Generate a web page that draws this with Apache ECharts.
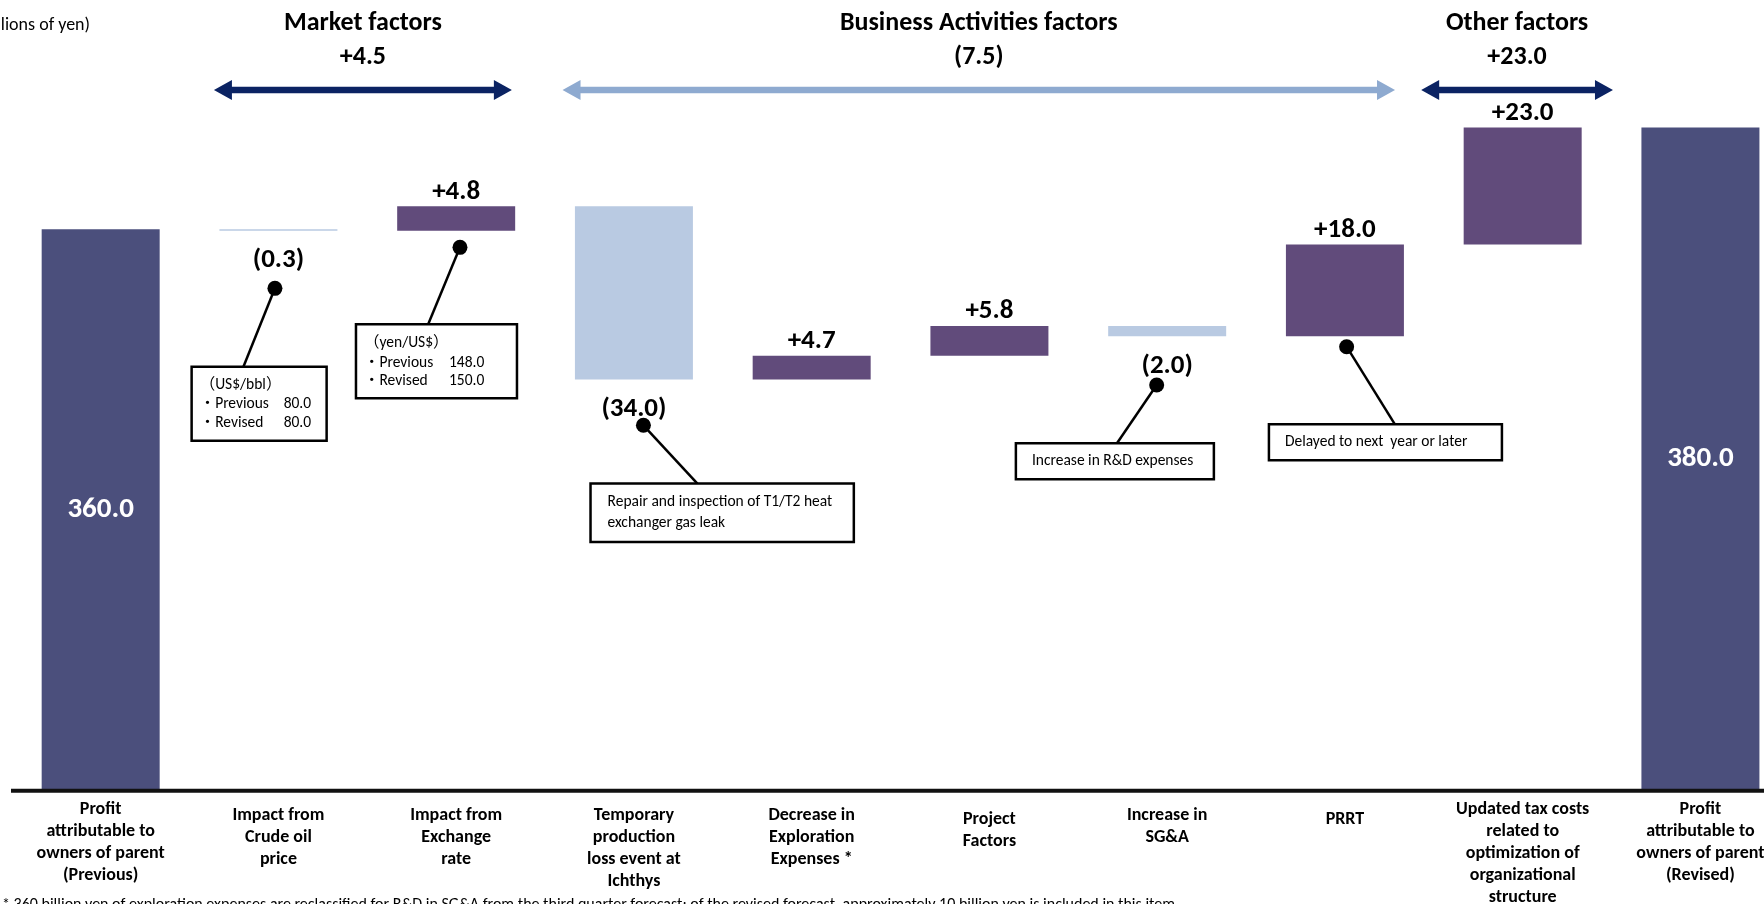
<!DOCTYPE html>
<html><head><meta charset="utf-8">
<script src="https://cdn.jsdelivr.net/npm/echarts@6/dist/echarts.min.js"></script>
<style>html,body{margin:0;padding:0;background:#fff;overflow:hidden}#c{width:1764px;height:904px}</style>
</head><body><div id="c"></div>
<script>
// ---------- data ----------
const categories = [
  'Profit\nattributable to\nowners of parent\n(Previous)',
  'Impact from\nCrude oil\nprice',
  'Impact from\nExchange\nrate',
  'Temporary\nproduction\nloss event at\nIchthys',
  'Decrease in\nExploration\nExpenses *',
  'Project\nFactors',
  'Increase in\nSG&A',
  'PRRT',
  'Updated tax costs\nrelated to\noptimization of\norganizational\nstructure',
  'Profit\nattributable to\nowners of parent\n(Revised)'
];
const startTotal = 360.0;
const endTotal = 380.0;
const changes = [-0.3, 4.8, -34.0, 4.7, 5.8, -2.0, 18.0, 23.0];
const groupTitles = ['Market factors', 'Business Activities factors', 'Other factors'];
const groupValues = ['+4.5', '(7.5)', '+23.0'];
const unitText = '(billions of yen)';
const footnoteText = '* 360 billion yen of exploration expenses are reclassified for R&D in SG&A from the third quarter forecast; of the revised forecast, approximately 10 billion yen is included in this item.';
const noteTexts = [
  [['（US$/bbl）'], ['・Previous', '80.0'], ['・Revised', '80.0']],
  [['（yen/US$）'], ['・Previous', '148.0'], ['・Revised', '150.0']],
  [['Repair and inspection of T1/T2 heat'], ['exchanger gas leak']],
  [['Increase in R&D expenses']],
  [['Delayed to next  year or later']]
];

// ---------- styles / layout ----------
const FONT = 'Carlito, Lato, "Noto Sans", "Noto Sans CJK JP", sans-serif';
const C_TOTAL = '#4B4F7C', C_POS = '#614B7B', C_NEG = '#B9CAE2';
const C_DARK_ARROW = '#0B2363', C_LIGHT_ARROW = '#8EAAD0';
const Y_MIN = 250, Y_MAX = 400;
const labelTopPad = [0, 6, 6, 6, 6, 10, 6, 10, 0, 0];
const groupLayout = [
  {from: 1, fromDx: -64.5, to: 2, toDx: 55.7, color: C_DARK_ARROW},
  {from: 3, fromDx: -71.4, to: 7, toDx: 50.1, color: C_LIGHT_ARROW},
  {from: 8, fromDx: -101.5, to: 8, toDx: 90.3, color: C_DARK_ARROW}
];
// offsets from bar centre / bar lower edge
const noteLayout = [
  {cat: 1, dot: [-3.5, 57.5], end: [-35, 136], box: [-86.8, 136, 135, 74], pad: 8, valX: 92, lines: [18.3, 37.6, 56]},
  {cat: 2, dot: [3.8, 16.5], end: [-28, 93.5], box: [-100.2, 93.5, 161, 74], pad: 8, valX: 93, lines: [19, 38.4, 56.7]},
  {cat: 3, dot: [9.5, 45.7], end: [63.5, 104], box: [-43.4, 104, 263.3, 58.5], pad: 17, lines: [18.5, 39.4]},
  {cat: 6, dot: [-10.5, 48.7], end: [-50.2, 107], box: [-151.3, 107, 198, 36], pad: 16, lines: [18]},
  {cat: 7, dot: [1.7, 10.4], end: [50, 88], box: [-76, 88, 233, 36], pad: 16, lines: [18]}
];

// ---------- build waterfall ----------
const baseData = [], valData = [], lows = [];
const fmt = v => v < 0 ? '(' + Math.abs(v).toFixed(1) + ')' : '+' + v.toFixed(1);
const totalLabel = v => ({show: true, position: 'inside', color: '#fff', fontSize: 29, formatter: v.toFixed(1)});
baseData.push(0);
valData.push({value: startTotal, itemStyle: {color: C_TOTAL}, label: totalLabel(startTotal)});
lows.push(Y_MIN);
let run = startTotal;
changes.forEach(c => {
  const lo = Math.min(run, run + c);
  baseData.push(lo);
  lows.push(lo);
  valData.push({value: Math.abs(c), itemStyle: {color: c < 0 ? C_NEG : C_POS},
    label: {show: true, position: c < 0 ? 'bottom' : 'top', distance: c < 0 ? 16 : 1, color: '#000', formatter: fmt(c)}});
  run += c;
});
baseData.push(0);
valData.push({value: endTotal, itemStyle: {color: C_TOTAL}, label: totalLabel(endTotal)});
lows.push(Y_MIN);

const axisData = categories.map((c, i) => ({value: c, textStyle: {padding: [labelTopPad[i], 0, 0, 0]}}));

const option = {
  animation: false,
  backgroundColor: '#fff',
  grid: {left: 11.8, right: -25.3, top: 25.5, bottom: 114.25, outerBoundsMode: 'none', containLabel: false},
  xAxis: {
    type: 'category', data: axisData,
    axisLine: {show: false}, axisTick: {show: false},
    axisLabel: {interval: 0, color: '#000', fontFamily: FONT, fontWeight: 'bold', fontSize: 18, lineHeight: 22, margin: 9}
  },
  yAxis: {type: 'value', min: Y_MIN, max: Y_MAX, show: false, splitLine: {show: false}},
  series: [
    {type: 'bar', stack: 'w', data: baseData, barWidth: 118, itemStyle: {color: 'transparent'}, silent: true},
    {type: 'bar', stack: 'w', data: valData, barWidth: 118, clip: true,
      label: {fontFamily: FONT, fontWeight: 'bold', fontSize: 27}}
  ]
};

const chart = echarts.init(document.getElementById('c'));
chart.setOption(option);

const px = i => chart.convertToPixel({xAxisIndex: 0}, i);
const py = v => chart.convertToPixel({yAxisIndex: 0}, v);

const g = [];
const yb = py(Y_MIN);
g.push({type: 'line', shape: {x1: 11, y1: yb + 1, x2: 1764, y2: yb + 1}, style: {stroke: '#111', lineWidth: 4}, z: 10});
g.push({type: 'text', x: 90, y: 25, style: {text: unitText, font: '18px ' + FONT, fill: '#000', align: 'right', verticalAlign: 'middle'}});
g.push({type: 'text', x: 2, y: 897, style: {text: footnoteText, font: '16px ' + FONT, fill: '#000', align: 'left', verticalAlign: 'top'}});

function arrow(x1, x2, y, color) {
  const h = 18, hh = 10, s = 3.3;
  return {type: 'polygon', shape: {points: [
    [x1, y], [x1 + h, y - hh], [x1 + h, y - s], [x2 - h, y - s], [x2 - h, y - hh], [x2, y],
    [x2 - h, y + hh], [x2 - h, y + s], [x1 + h, y + s], [x1 + h, y + hh]]}, style: {fill: color}};
}
groupLayout.forEach((L, k) => {
  const x1 = px(L.from) + L.fromDx, x2 = px(L.to) + L.toDx;
  g.push(arrow(x1, x2, 90, L.color));
  const cx = (x1 + x2) / 2;
  g.push({type: 'text', x: cx, y: 23, style: {text: groupTitles[k], font: 'bold 26px ' + FONT, fill: '#000', align: 'center', verticalAlign: 'middle'}});
  g.push({type: 'text', x: cx, y: 57, style: {text: groupValues[k], font: 'bold 26px ' + FONT, fill: '#000', align: 'center', verticalAlign: 'middle'}});
});

noteLayout.forEach((L, k) => {
  const cx = px(L.cat), by = py(lows[L.cat]);
  const dx = cx + L.dot[0], dy = by + L.dot[1];
  const ex = cx + L.end[0], ey = by + L.end[1];
  const bx = cx + L.box[0], byy = by + L.box[1];
  g.push({type: 'line', shape: {x1: dx, y1: dy, x2: ex, y2: ey}, style: {stroke: '#000', lineWidth: 2.5}, z: 5});
  g.push({type: 'circle', shape: {cx: dx, cy: dy, r: 7.5}, style: {fill: '#000'}, z: 6});
  g.push({type: 'rect', shape: {x: bx, y: byy, width: L.box[2], height: L.box[3]}, style: {fill: '#fff', stroke: '#000', lineWidth: 2.5}, z: 6});
  noteTexts[k].forEach((ln, j) => {
    const ty = byy + L.lines[j];
    g.push({type: 'text', x: bx + L.pad, y: ty, z: 7, style: {text: ln[0], font: '15.5px ' + FONT, fill: '#000', align: 'left', verticalAlign: 'middle'}});
    if (ln[1]) g.push({type: 'text', x: bx + L.valX, y: ty, z: 7, style: {text: ln[1], font: '15.5px ' + FONT, fill: '#000', align: 'left', verticalAlign: 'middle'}});
  });
});

chart.setOption({graphic: g});
</script>
</body></html>
